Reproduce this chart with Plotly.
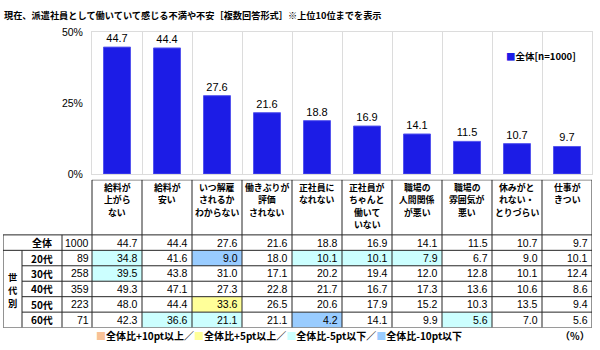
import plotly.graph_objects as go

# ---------------- data ----------------
title_text = "現在、派遣社員として働いていて感じる不満や不安［複数回答形式］※上位10位までを表示"
categories = [
    "給料が<br>上がら<br>ない",
    "給料が<br>安い",
    "いつ解雇<br>されるか<br>わからない",
    "働きぶりが<br>評価<br>されない",
    "正社員に<br>なれない",
    "正社員が<br>ちゃんと<br>働いて<br>いない",
    "職場の<br>人間関係<br>が悪い",
    "職場の<br>雰囲気が<br>悪い",
    "休みがと<br>れない・<br>とりづらい",
    "仕事が<br>きつい",
]
total = [44.7, 44.4, 27.6, 21.6, 18.8, 16.9, 14.1, 11.5, 10.7, 9.7]
total_label = "全体"
total_n = 1000
series_name = "全体[n=1000]"
group_title = "世代別"
groups = ["20代", "30代", "40代", "50代", "60代"]
group_n = [89, 258, 359, 223, 71]
age20 = [34.8, 41.6, 9.0, 18.0, 10.1, 10.1, 7.9, 6.7, 9.0, 10.1]
age30 = [39.5, 43.8, 31.0, 17.1, 20.2, 19.4, 12.0, 12.8, 10.1, 12.4]
age40 = [49.3, 47.1, 27.3, 22.8, 21.7, 16.7, 17.3, 13.6, 10.6, 8.6]
age50 = [48.0, 44.4, 33.6, 26.5, 20.6, 17.9, 15.2, 10.3, 13.5, 9.4]
age60 = [42.3, 36.6, 21.1, 21.1, 4.2, 14.1, 9.9, 5.6, 7.0, 5.6]
group_values = [age20, age30, age40, age50, age60]
ytick_vals = [0, 25, 50]
ytick_text = ["0%", "25%", "50%"]
legend_items = ["全体比+10pt以上", "全体比+5pt以上", "全体比-5pt以下", "全体比-10pt以下"]
unit_label = "（%）"

# ---------------- styles ----------------
W, H = 600, 350
BAR_COLOR = "#1c1ce6"
BAR_EDGE = "#5555ee"
GRID = "#dcdcdc"
LINE = "#262626"
C_P10 = "#f8c196"
C_P5 = "#ffff99"
C_M5 = "#ccffff"
C_M10 = "#99ccff"
legend_colors = [C_P10, C_P5, C_M5, C_M10]
JP = "Noto Sans CJK JP"
NUM = "Liberation Sans, Arial"


def fx(px):
    return px / W


def fy(py):
    return 1 - py / H


def cell_color(v, base):
    d = v - base
    if d >= 10:
        return C_P10
    if d >= 5:
        return C_P5
    if d <= -10:
        return C_M10
    if d <= -5:
        return C_M5
    return None


fig = go.Figure()

# ---------------- bar chart ----------------
fig.add_trace(go.Bar(
    x=categories, y=total, name=series_name,
    marker=dict(color=BAR_COLOR, line=dict(color=BAR_EDGE, width=1)),
    width=0.54,
    text=[f"{v:.1f}" for v in total], textposition="outside",
    textfont=dict(family=NUM, size=11, color="#000"),
    cliponaxis=False, showlegend=False, hoverinfo="skip",
))

# anchor trace for the table axes
ncol = len(categories)
fig.add_trace(go.Scatter(x=[0], y=[0], xaxis="x2", yaxis="y2", mode="markers",
                         marker=dict(opacity=0), showlegend=False, hoverinfo="skip"))

# table geometry in table-axis units (1 col = 50px, 1 row = 16px)
HEAD = 57 / 16
LEFT = -0.5 - 89 / 50
X_AGE = -0.5 - 70 / 50
X_N = -0.5 - 30 / 50
nrows = 1 + len(groups)
BOTTOM = HEAD + nrows
HEAD_LINE0 = 7.5 / 16    # first header line centre
HEAD_PITCH = 13 / 16     # header line pitch
VT_PITCH = 13.5 / 16     # vertical title pitch
VT_MID = (294 - 180) / 16

fig.update_layout(
    width=W, height=H, autosize=False,
    margin=dict(l=0, r=0, t=0, b=0),
    paper_bgcolor="white", plot_bgcolor="white",
    xaxis=dict(domain=[fx(92), fx(592)], type="category", tickson="boundaries",
               showgrid=True, gridcolor=GRID, gridwidth=1,
               showline=True, mirror=True, linecolor=GRID,
               showticklabels=False, ticks="", fixedrange=True),
    yaxis=dict(domain=[fy(174), fy(27)], range=[0, 50], tickvals=ytick_vals, ticktext=ytick_text,
               showgrid=False, zeroline=False, showline=True, mirror=True, linecolor=GRID,
               ticks="", tickfont=dict(family=NUM, size=10.5, color="#000"),
               ticklabelstandoff=6, fixedrange=True),
    xaxis2=dict(domain=[fx(3), fx(592)], range=[LEFT, ncol - 0.5], visible=False, fixedrange=True),
    yaxis2=dict(domain=[fy(333), fy(180)], range=[BOTTOM, 0], visible=False, fixedrange=True),
)

shapes = []
ann = []

# cell fills
for gi, vals in enumerate(group_values):
    r = HEAD + 1 + gi
    for j, v in enumerate(vals):
        c = cell_color(v, total[j])
        if c:
            shapes.append(dict(type="rect", xref="x2", yref="y2", x0=j - 0.5, x1=j + 0.5,
                               y0=r, y1=r + 1, fillcolor=c, line=dict(width=0), layer="below"))


def hline(y, x0, x1):
    shapes.append(dict(type="line", xref="x2", yref="y2", x0=x0, x1=x1, y0=y, y1=y,
                       line=dict(color=LINE, width=1)))


def vline(x, y0, y1):
    shapes.append(dict(type="line", xref="x2", yref="y2", x0=x, x1=x, y0=y0, y1=y1,
                       line=dict(color=LINE, width=1)))


hline(0, -0.5, ncol - 0.5)
hline(HEAD, LEFT, ncol - 0.5)
hline(HEAD + 1, LEFT, ncol - 0.5)
for k in range(2, nrows):
    hline(HEAD + k, X_AGE, ncol - 0.5)
hline(BOTTOM, LEFT, ncol - 0.5)
for j in range(ncol + 1):
    vline(j - 0.5, 0, BOTTOM)
vline(LEFT, HEAD, BOTTOM)
vline(X_N, HEAD, BOTTOM)
vline(X_AGE, HEAD + 1, BOTTOM)

# header labels (one annotation per line)
for j, cat in enumerate(categories):
    for li, line in enumerate(cat.split("<br>")):
        ann.append(dict(xref="x2", yref="y2", x=j, y=HEAD_LINE0 + li * HEAD_PITCH, text=line,
                        showarrow=False, xanchor="center", yanchor="middle", borderpad=0,
                        font=dict(family=JP, size=8.9, color="#000", weight="bold")))

# rows
row_labels = [total_label] + groups
row_n = [total_n] + group_n
row_vals = [total] + group_values
for r in range(nrows):
    yc = HEAD + r + 0.5
    ann.append(dict(xref="x2", yref="y2", x=(X_AGE + X_N) / 2, y=yc, text=row_labels[r],
                    showarrow=False, xanchor="center", yanchor="middle",
                    font=dict(family=JP, size=10, color="#000", weight="bold")))
    ann.append(dict(xref="x2", yref="y2", x=-0.5, y=yc, text=str(row_n[r]), xshift=-1,
                    showarrow=False, xanchor="right", yanchor="middle",
                    font=dict(family=NUM, size=10.5, color="#000")))
    for j, v in enumerate(row_vals[r]):
        ann.append(dict(xref="x2", yref="y2", x=j + 0.5, y=yc, text=f"{v:.1f}", xshift=-2,
                        showarrow=False, xanchor="right", yanchor="middle",
                        font=dict(family=NUM, size=10.5, color="#000")))

# vertical group title (one annotation per character)
for k, ch in enumerate(group_title):
    ann.append(dict(xref="x2", yref="y2", x=(LEFT + X_AGE) / 2,
                    y=VT_MID + (k - (len(group_title) - 1) / 2) * VT_PITCH,
                    text=ch, showarrow=False, xanchor="center", yanchor="middle", borderpad=0,
                    font=dict(family=JP, size=9.3, color="#000", weight="bold")))

# title
ann.append(dict(xref="paper", yref="paper", x=fx(2), y=fy(9), text=title_text, showarrow=False,
                xanchor="left", yanchor="middle",
                font=dict(family=JP, size=9.2, color="#000", weight="bold")))

# series legend
ann.append(dict(xref="paper", yref="paper", x=fx(504), y=fy(52),
                text=f"<span style='color:{BAR_COLOR}'>■</span>{series_name}", showarrow=False,
                xanchor="left", yanchor="middle",
                font=dict(family=JP, size=9.5, color="#000", weight="bold")))

# colour legend
parts = []
for i, (lab, col) in enumerate(zip(legend_items, legend_colors)):
    sep = "／" if i < len(legend_items) - 1 else ""
    parts.append(f"<span style='color:{col}'>■</span>{lab}{sep}")
ann.append(dict(xref="paper", yref="paper", x=fx(94), y=fy(341), text="".join(parts),
                showarrow=False, xanchor="left", yanchor="middle",
                font=dict(family=JP, size=10, color="#000", weight="bold")))
ann.append(dict(xref="paper", yref="paper", x=fx(592), y=fy(341), text=unit_label,
                showarrow=False, xanchor="right", yanchor="middle",
                font=dict(family=JP, size=10, color="#000", weight="bold")))

fig.update_layout(shapes=shapes, annotations=ann)
fig.write_html("out.html")
